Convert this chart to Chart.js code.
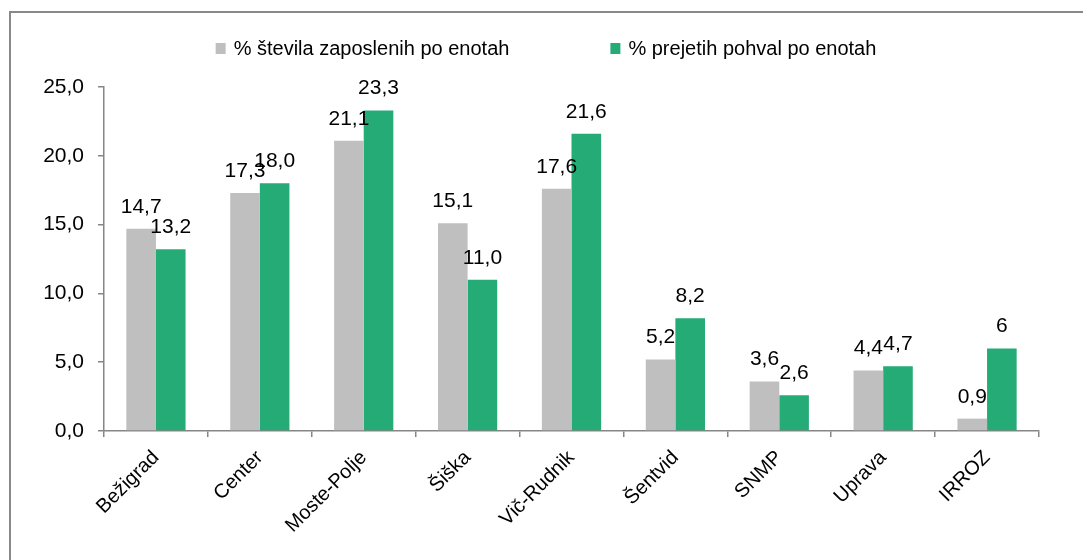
<!DOCTYPE html>
<html>
<head>
<meta charset="utf-8">
<script src="https://cdn.jsdelivr.net/npm/chart.js@4/dist/chart.umd.min.js"></script>
<style>
  html, body { margin: 0; padding: 0; background: #fff; overflow: hidden; }
  #frame { position: absolute; left: 9px; top: 11px; width: 1200px; height: 700px; border: 2px solid #898989; box-sizing: border-box; }
  #c { position: absolute; left: 0; top: 0; }
</style>
</head>
<body>
<div id="frame"></div>
<canvas id="c" width="1083" height="560"></canvas>
<script>
const categories = ['Bežigrad', 'Center', 'Moste-Polje', 'Šiška', 'Vič-Rudnik', 'Šentvid', 'SNMP', 'Uprava', 'IRROZ'];
const seriesNames = ['% števila zaposlenih po enotah', '% prejetih pohval po enotah'];
const employees = [14.7, 17.3, 21.1, 15.1, 17.6, 5.2, 3.6, 4.4, 0.9];
const praises = [13.2, 18.0, 23.3, 11.0, 21.6, 8.2, 2.6, 4.7, 6.0];
const employeeLabels = ['14,7', '17,3', '21,1', '15,1', '17,6', '5,2', '3,6', '4,4', '0,9'];
const praiseLabels = ['13,2', '18,0', '23,3', '11,0', '21,6', '8,2', '2,6', '4,7', '6'];
const yTicks = [0, 5, 10, 15, 20, 25];

const FONT = '"Liberation Sans", Arial, sans-serif';
const AXIS = '#868686';
const GRAY = '#BFBFBF';
const GREEN = '#25AB76';

const valueLabels = {
  id: 'valueLabels',
  afterDatasetsDraw(chart) {
    const ctx = chart.ctx;
    ctx.save();
    ctx.font = '21px ' + FONT;
    ctx.fillStyle = '#000';
    ctx.textAlign = 'center';
    ctx.textBaseline = 'alphabetic';
    chart.data.datasets.forEach((ds, di) => {
      const meta = chart.getDatasetMeta(di);
      meta.data.forEach((bar, i) => {
        ctx.fillText(ds.valueText[i], bar.x, bar.y - 16);
      });
    });
    ctx.restore();
  }
};

const topLegend = {
  id: 'topLegend',
  afterDraw(chart, args, opts) {
    const ctx = chart.ctx;
    ctx.save();
    ctx.font = '20px ' + FONT;
    ctx.textBaseline = 'middle';
    ctx.textAlign = 'left';
    const box = 10, gap = 8, spacing = opts.spacing;
    const items = chart.data.datasets.map(ds => ({ text: ds.label, color: ds.backgroundColor, w: box + gap + ctx.measureText(ds.label).width }));
    const total = items.reduce((s, it) => s + it.w, 0) + spacing * (items.length - 1);
    let x = opts.centerX - total / 2;
    const y = opts.y;
    items.forEach(it => {
      ctx.fillStyle = it.color;
      ctx.fillRect(x, y - box / 2, box, box + 1);
      ctx.fillStyle = '#000';
      ctx.fillText(it.text, x + box + gap, y + 1);
      x += it.w + spacing;
    });
    ctx.restore();
  }
};

new Chart(document.getElementById('c'), {
  type: 'bar',
  data: {
    labels: categories,
    datasets: [
      { label: seriesNames[0], data: employees, valueText: employeeLabels, backgroundColor: GRAY, categoryPercentage: 0.57, barPercentage: 1.0 },
      { label: seriesNames[1], data: praises, valueText: praiseLabels, backgroundColor: GREEN, categoryPercentage: 0.57, barPercentage: 1.0 }
    ]
  },
  options: {
    responsive: false,
    animation: false,
    devicePixelRatio: 1,
    layout: { padding: { top: 87, right: 44, left: 0, bottom: 0 } },
    plugins: {
      legend: { display: false },
      tooltip: { enabled: false },
      topLegend: { centerX: 546, y: 48, spacing: 101 }
    },
    scales: {
      x: {
        offset: true,
        grid: { offset: true, drawOnChartArea: false, drawTicks: true, tickLength: 6, color: AXIS, lineWidth: 1.5 },
        border: { color: AXIS, width: 1.5 },
        ticks: { color: '#000', font: { family: FONT, size: 20 }, minRotation: 45, maxRotation: 45, padding: 9, autoSkip: false },
        afterFit(scale) { scale.height = 129; }
      },
      y: {
        min: 0, max: 25,
        afterBuildTicks(scale) { scale.ticks = yTicks.map(v => ({ value: v })); },
        grid: { drawOnChartArea: false, drawTicks: true, tickLength: 6, color: AXIS, lineWidth: 1.5 },
        border: { color: AXIS, width: 1.5 },
        ticks: { color: '#000', font: { family: FONT, size: 21 }, padding: 14, callback: v => v.toFixed(1).replace('.', ',') },
        afterFit(scale) { scale.width = 104; }
      }
    }
  },
  plugins: [valueLabels, topLegend]
});
</script>
</body>
</html>
